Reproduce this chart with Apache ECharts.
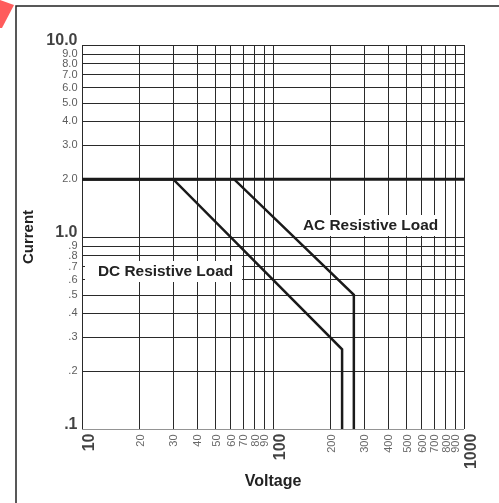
<!DOCTYPE html>
<html><head><meta charset="utf-8">
<script src="https://cdn.jsdelivr.net/npm/echarts@6/dist/echarts.min.js"></script>
<style>html,body{margin:0;padding:0;background:#fff}#c{width:499px;height:503px}</style>
</head><body><div id="c"></div>
<script>
// ---- data ----
const xMajorTicks = [10, 100, 1000];
const xMajorLabels = ['10', '100', '1000'];
const xMinorTicks = [20, 30, 40, 50, 60, 70, 80, 90, 200, 300, 400, 500, 600, 700, 800, 900];
const xMinorLabels = ['20', '30', '40', '50', '60', '70', '80', '90', '200', '300', '400', '500', '600', '700', '800', '900'];
const yMajorTicks = [0.1, 1, 10];
const yMajorLabels = ['.1', '1.0', '10.0'];
const yMinorTicks = [0.2, 0.3, 0.4, 0.5, 0.6, 0.7, 0.8, 0.9, 2, 3, 4, 5, 6, 7, 8, 9];
const yMinorLabels = ['.2', '.3', '.4', '.5', '.6', '.7', '.8', '.9', '2.0', '3.0', '4.0', '5.0', '6.0', '7.0', '8.0', '9.0'];
const dcVoltage = [10, 30, 230, 230];
const dcCurrent = [2, 2, 0.26, 0.1];
const acVoltage = [10, 62.5, 265, 265];
const acCurrent = [2, 2, 0.5, 0.1];
const ratedVoltage = [10, 1000];
const ratedCurrent = [2, 2];
const xTitle = 'Voltage';
const yTitle = 'Current';
const dcName = 'DC Resistive Load';
const acName = 'AC Resistive Load';

// ---- build ----
const FONT = '"Liberation Sans", Arial, Helvetica, sans-serif';
const xMin = 10, xMax = 1000, yMin = 0.1, yMax = 10;
const allX = xMajorTicks.concat(xMinorTicks);
const allY = yMajorTicks.concat(yMinorTicks);
const gridLines = allX.map(v => ({ coords: [[v, yMin], [v, yMax]] }))
  .concat(allY.map(v => ({ coords: [[xMin, v], [xMax, v]] })));
const zip = (a, b) => a.map((v, i) => [v, b[i]]);
const transparent = { color: 'rgba(0,0,0,0)' };

const chart = echarts.init(document.getElementById('c'), null, { renderer: 'canvas' });
chart.setOption({
  animation: false,
  backgroundColor: '#fff',
  grid: { left: 82, right: 35, top: 45, bottom: 74 },
  xAxis: {
    type: 'log', logBase: 10, min: xMin, max: xMax,
    axisLine: { show: false }, axisTick: { show: false }, axisLabel: { show: false }, splitLine: { show: false },
    name: xTitle, nameLocation: 'middle', nameGap: 45,
    nameTextStyle: { fontFamily: FONT, fontWeight: 'bold', fontSize: 16, color: '#222' }
  },
  yAxis: {
    type: 'log', logBase: 10, min: yMin, max: yMax,
    axisLine: { show: false }, axisTick: { show: false }, axisLabel: { show: false }, splitLine: { show: false },
    name: yTitle, nameLocation: 'middle', nameGap: 46, nameRotate: 90,
    nameTextStyle: { fontFamily: FONT, fontWeight: 'bold', fontSize: 15, color: '#222' }
  },
  series: [
    { type: 'lines', coordinateSystem: 'cartesian2d', silent: true, z: 1,
      lineStyle: { color: '#2a2a2a', width: 1, opacity: 1 }, data: gridLines },
    { type: 'line', silent: true, z: 3, symbol: 'none', data: zip(ratedVoltage, ratedCurrent),
      lineStyle: { color: '#1a1a1a', width: 3 } },
    { type: 'line', silent: true, z: 3, symbol: 'none', data: zip(dcVoltage, dcCurrent),
      lineStyle: { color: '#1a1a1a', width: 2.5, join: 'miter' } },
    { type: 'line', silent: true, z: 3, symbol: 'none', data: zip(acVoltage, acCurrent),
      lineStyle: { color: '#1a1a1a', width: 2.5, join: 'miter' } },
    // x tick labels
    { type: 'scatter', silent: true, z: 5, symbolSize: 1, itemStyle: transparent,
      data: xMajorTicks.map(v => [v, yMin]),
      label: { show: true, position: 'bottom', distance: 4, rotate: 90, align: 'right', verticalAlign: 'middle',
        offset: [0, 8], formatter: p => xMajorLabels[p.dataIndex],
        fontFamily: FONT, fontWeight: 'bold', fontSize: 16, color: '#111' } },
    { type: 'scatter', silent: true, z: 5, symbolSize: 1, itemStyle: transparent,
      data: xMinorTicks.map(v => [v, yMin]),
      label: { show: true, position: 'bottom', distance: 5, rotate: 90, align: 'right', verticalAlign: 'middle',
        offset: [0, 1], formatter: p => xMinorLabels[p.dataIndex],
        fontFamily: FONT, fontSize: 11, color: '#444' } },
    // y tick labels
    { type: 'scatter', silent: true, z: 5, symbolSize: 1, itemStyle: transparent,
      data: yMajorTicks.map(v => [xMin, v]),
      label: { show: true, position: 'left', distance: 4, align: 'right', verticalAlign: 'middle',
        offset: [0, -4], formatter: p => yMajorLabels[p.dataIndex],
        fontFamily: FONT, fontWeight: 'bold', fontSize: 16, color: '#111' } },
    { type: 'scatter', silent: true, z: 5, symbolSize: 1, itemStyle: transparent,
      data: yMinorTicks.map(v => [xMin, v]),
      label: { show: true, position: 'left', distance: 4, align: 'right', verticalAlign: 'middle',
        formatter: p => yMinorLabels[p.dataIndex],
        fontFamily: FONT, fontSize: 11, color: '#333' } }
  ],
  graphic: [
    { type: 'polyline', z: 10, shape: { points: [[16, 503], [16, 6], [499, 6]] },
      style: { stroke: '#222', lineWidth: 1.5, fill: null } },
    { type: 'polygon', z: 10, shape: { points: [[0, 0], [14, 5], [2, 28], [0, 28]] },
      style: { fill: '#ff5c5c' } },
    { type: 'text', z: 20, x: 85, y: 261,
      style: { text: dcName, font: 'bold 15.4px ' + FONT, fill: '#222', backgroundColor: '#fff',
        padding: [3, 9, 3, 13] } },
    { type: 'text', z: 20, x: 298, y: 215,
      style: { text: acName, font: 'bold 15.4px ' + FONT, fill: '#222', backgroundColor: '#fff',
        padding: [3, 3, 3, 5] } }
  ]
});
</script>
</body></html>
